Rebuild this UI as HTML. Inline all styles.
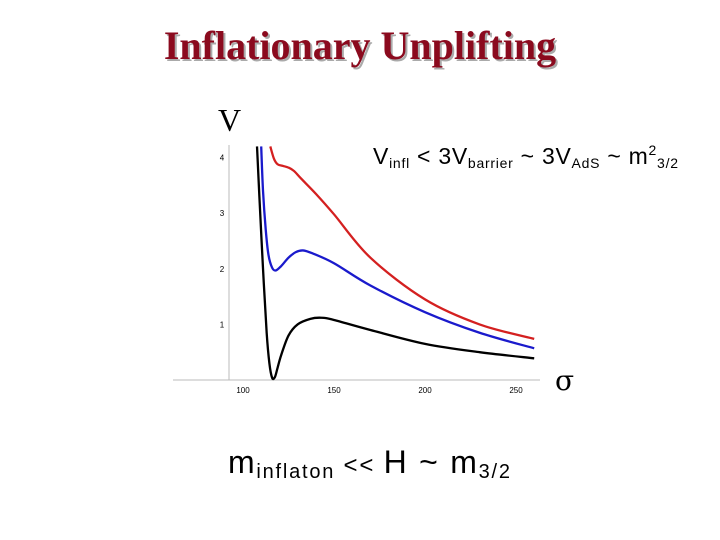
<!DOCTYPE html>
<html><head><meta charset="utf-8"><style>
html,body{margin:0;padding:0;background:#fff;}
svg{display:block;}
</style></head><body>
<svg width="720" height="540" viewBox="0 0 720 540">
<text x="362" y="61" text-anchor="middle" font-family="Liberation Serif, serif" font-weight="bold" font-size="40" fill="#aaa">Inflationary Unplifting</text>
<text x="360" y="59" text-anchor="middle" font-family="Liberation Serif, serif" font-weight="bold" font-size="40" fill="#8b0a1e">Inflationary Unplifting</text>
<text x="218" y="131" font-family="Liberation Serif, serif" font-size="32" fill="#000">V</text>
<text x="555" y="390" font-family="DejaVu Serif, serif" font-size="28" fill="#000">σ</text>
<text x="373" y="164" textLength="305" lengthAdjust="spacing" font-family="Liberation Sans, sans-serif" font-size="23" fill="#000">V<tspan font-size="14" dy="4">infl</tspan><tspan dy="-4"> &lt; 3V</tspan><tspan font-size="14" dy="4">barrier</tspan><tspan dy="-4"> ~ 3V</tspan><tspan font-size="14" dy="4">AdS</tspan><tspan dy="-4"> ~ m</tspan><tspan font-size="14" dy="-9">2</tspan><tspan font-size="14" dy="13">3/2</tspan></text>
<text x="228" y="473" textLength="282" lengthAdjust="spacing" font-family="Liberation Sans, sans-serif" font-size="32" fill="#000">m<tspan font-size="20" dy="5">inflaton</tspan><tspan font-size="24" dy="-5"> &lt;&lt; </tspan>H ~ m<tspan font-size="20" dy="5">3/2</tspan></text>
<g id="axes"></g>
<g id="plot"></g>
</svg>
<script>
const xTicks=[100,150,200,250];
const yTicks=[1,2,3,4];
const blackX=[107.7,109,111,113,114.5,116,117.5,119,121,125,130,137,143,150,170,200,230,260];
const blackY=[4.2,3.3,2.0,0.85,0.3,0.04,0.05,0.22,0.45,0.8,1.0,1.1,1.12,1.08,0.9,0.65,0.5,0.39];
const blueX=[110,111,112.5,114,116,118,121,125,129,133,138,150,170,200,230,260];
const blueY=[4.2,3.4,2.7,2.25,2.02,1.97,2.05,2.2,2.3,2.33,2.28,2.1,1.7,1.22,0.85,0.57];
const redX=[115,117,119,122,125,128,132,140,150,170,200,230,260];
const redY=[4.2,3.98,3.88,3.85,3.82,3.76,3.62,3.35,2.98,2.2,1.45,1.0,0.74];
function sx(v){return 243+(v-100)*1.82;}
function sy(v){return 380-v*55.6;}
const NS="http://www.w3.org/2000/svg";
const axes=document.getElementById('axes');
const plot=document.getElementById('plot');
function mk(t,a,p){const e=document.createElementNS(NS,t);for(const k in a)e.setAttribute(k,a[k]);p.appendChild(e);return e;}
const xa=mk('line',{x1:173,y1:380,x2:540,y2:380,stroke:'#bbb','stroke-width':1},axes);


const ya=mk('line',{x1:229,y1:145,x2:229,y2:380,stroke:'#bbb','stroke-width':1},axes);


xTicks.forEach(v=>{
  const t=mk('text',{x:sx(v),y:393,'text-anchor':'middle','font-family':'Liberation Sans, sans-serif','font-size':8,fill:'#000'},axes);
  t.textContent=v;
  
  
});
yTicks.forEach(v=>{
  const t=mk('text',{x:222,y:sy(v)+3,'text-anchor':'middle','font-family':'Liberation Sans, sans-serif','font-size':8,fill:'#000'},axes);
  t.textContent=v;
  
  
});
function path(xs,ys){
  const p=xs.map((x,i)=>[sx(x),sy(ys[i])]);
  let d='M'+p[0][0]+','+p[0][1];
  for(let i=0;i<p.length-1;i++){
    const p0=p[i-1]||p[i],p1=p[i],p2=p[i+1],p3=p[i+2]||p2;
    const c1=[p1[0]+(p2[0]-p0[0])/6,p1[1]+(p2[1]-p0[1])/6];
    const c2=[p2[0]-(p3[0]-p1[0])/6,p2[1]-(p3[1]-p1[1])/6];
    d+=' C'+c1+' '+c2+' '+p2;
  }
  return d;
}
[[blackX,blackY,'#000','black-curve'],[blueX,blueY,'#1a1acc','blue-curve'],[redX,redY,'#d42020','red-curve']].forEach(s=>{
  const e=mk('path',{d:path(s[0],s[1]),fill:'none',stroke:s[2],'stroke-width':2.3},plot);
  
  
});
</script>
</body></html>
